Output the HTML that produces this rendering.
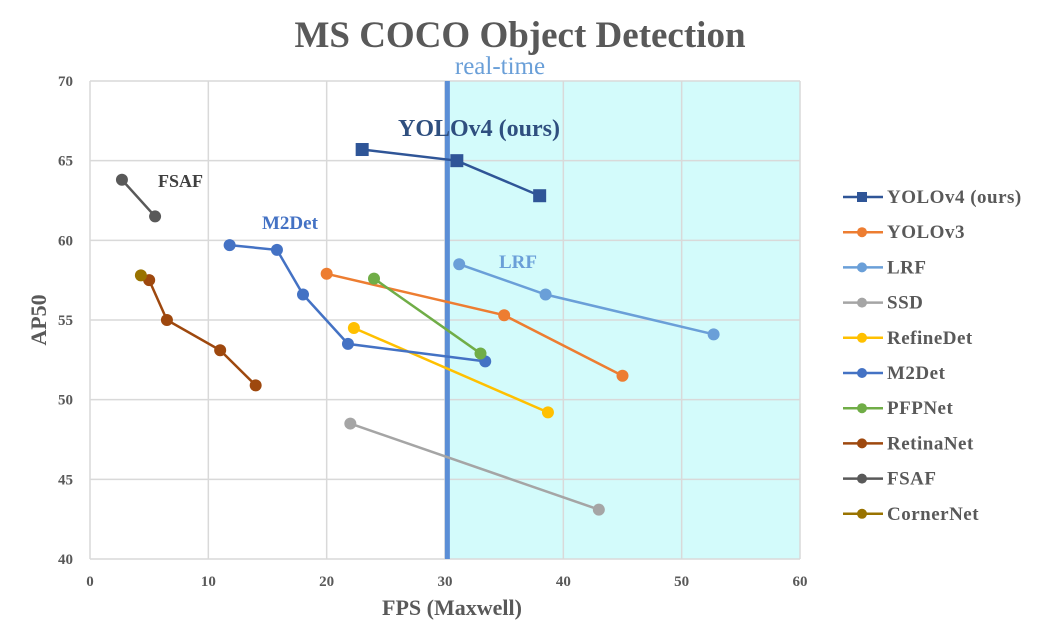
<!DOCTYPE html>
<html><head><meta charset="utf-8"><style>
html,body{margin:0;padding:0;background:#fff;width:1040px;height:644px;overflow:hidden}
svg text{font-family:"Liberation Serif",serif}
</style></head><body>
<svg id="chart" width="1040" height="644">
<text x="520" y="47" text-anchor="middle" font-size="37" font-weight="bold" fill="#595959">MS COCO Object Detection</text>
<g id="plot"></g>
<text x="452" y="615" text-anchor="middle" font-size="22" font-weight="bold" fill="#595959">FPS (Maxwell)</text>
<text transform="translate(46,320) rotate(-90)" text-anchor="middle" font-size="22" font-weight="bold" fill="#595959">AP50</text>
</svg>
<script>
const seriesNames=["YOLOv4 (ours)","YOLOv3","LRF","SSD","RefineDet","M2Det","PFPNet","RetinaNet","FSAF","CornerNet"];
const seriesColors=["#2f5597","#ed7d31","#6a9fd8","#a5a5a5","#ffc000","#4472c4","#70ad47","#9e480e","#595959","#997300"];
const yolov4X=[23,31,38],yolov4Y=[65.7,65.0,62.8];
const yolov3X=[20,35,45],yolov3Y=[57.9,55.3,51.5];
const lrfX=[31.2,38.5,52.7],lrfY=[58.5,56.6,54.1];
const ssdX=[22,43],ssdY=[48.5,43.1];
const refinedetX=[22.3,38.7],refinedetY=[54.5,49.2];
const m2detX=[11.8,15.8,18,21.8,33.4],m2detY=[59.7,59.4,56.6,53.5,52.4];
const pfpnetX=[24,33],pfpnetY=[57.6,52.9];
const retinanetX=[5,6.5,11,14],retinanetY=[57.5,55,53.1,50.9];
const fsafX=[2.7,5.5],fsafY=[63.8,61.5];
const cornernetX=[4.3],cornernetY=[57.8];
const xTicks=[0,10,20,30,40,50,60];
const yTicks=[40,45,50,55,60,65,70];
const realTimeFps=30.2;
const allX=[yolov4X,yolov3X,lrfX,ssdX,refinedetX,m2detX,pfpnetX,retinanetX,fsafX,cornernetX];
const allY=[yolov4Y,yolov3Y,lrfY,ssdY,refinedetY,m2detY,pfpnetY,retinanetY,fsafY,cornernetY];
const L=90,R=800,T=81,B=559;
const sx=v=>L+(v-0)/60*(R-L), sy=v=>B-(v-40)/30*(B-T);
const NS="http://www.w3.org/2000/svg";
const g=document.getElementById('plot');
function mk(t,a,p){const e=document.createElementNS(NS,t);for(const k in a)e.setAttribute(k,a[k]);(p||g).appendChild(e);return e;}
let e=mk('rect',{x:sx(realTimeFps),y:T,width:R-sx(realTimeFps),height:B-T,fill:'#d3fbfb'});


xTicks.forEach(v=>{const l=mk('line',{x1:sx(v),x2:sx(v),y1:T,y2:B,stroke:'#d9d9d9','stroke-width':1.5});


const t=mk('text',{x:sx(v),y:B+27,'text-anchor':'middle','font-size':15,'font-weight':'bold',fill:'#595959'});t.textContent=v;

});
yTicks.forEach(v=>{const l=mk('line',{x1:L,x2:R,y1:sy(v),y2:sy(v),stroke:'#d9d9d9','stroke-width':1.5});


const t=mk('text',{x:L-17,y:sy(v)+5,'text-anchor':'end','font-size':15,'font-weight':'bold',fill:'#595959'});t.textContent=v;

});
e=mk('line',{x1:sx(realTimeFps),x2:sx(realTimeFps),y1:T,y2:B,stroke:'#5b8ed6','stroke-width':5});


e=mk('text',{x:500,y:74,'text-anchor':'middle','font-size':25,fill:'#6a9fd8'});e.textContent='real-time';


allX.forEach((xs,i)=>{const c=seriesColors[i];
if(xs.length>1){const p=mk('polyline',{points:xs.map((x,j)=>sx(x)+','+sy(allY[i][j])).join(' '),fill:'none',stroke:c,'stroke-width':2.5});

}
xs.forEach((x,j)=>{let m;if(i===0)m=mk('rect',{x:sx(x)-6.5,y:sy(allY[i][j])-6.5,width:13,height:13,fill:c});
else m=mk('circle',{cx:sx(x),cy:sy(allY[i][j]),r:6,fill:c});

});
const ly=197+i*35.2;
const ll=mk('line',{x1:843,x2:883,y1:ly,y2:ly,stroke:c,'stroke-width':2.5});


const lm=i===0?mk('rect',{x:857,y:ly-5,width:10,height:10,fill:c}):mk('circle',{cx:862,cy:ly,r:5,fill:c});


const lt=mk('text',{x:887,y:ly+6,'font-size':19,'font-weight':'bold',fill:'#595959','letter-spacing':0.5});lt.textContent=seriesNames[i];

});
const labels=[["YOLOv4 (ours)",398,136,24,'#2f4f7f'],["FSAF",158,187,18,'#404040'],["M2Det",262,229,19,'#4472c4'],["LRF",499,268,19,'#6a9fd8']];
labels.forEach(a=>{const t=mk('text',{x:a[1],y:a[2],'font-size':a[3],'font-weight':'bold',fill:a[4]});t.textContent=a[0];

});
</script>
</body></html>
